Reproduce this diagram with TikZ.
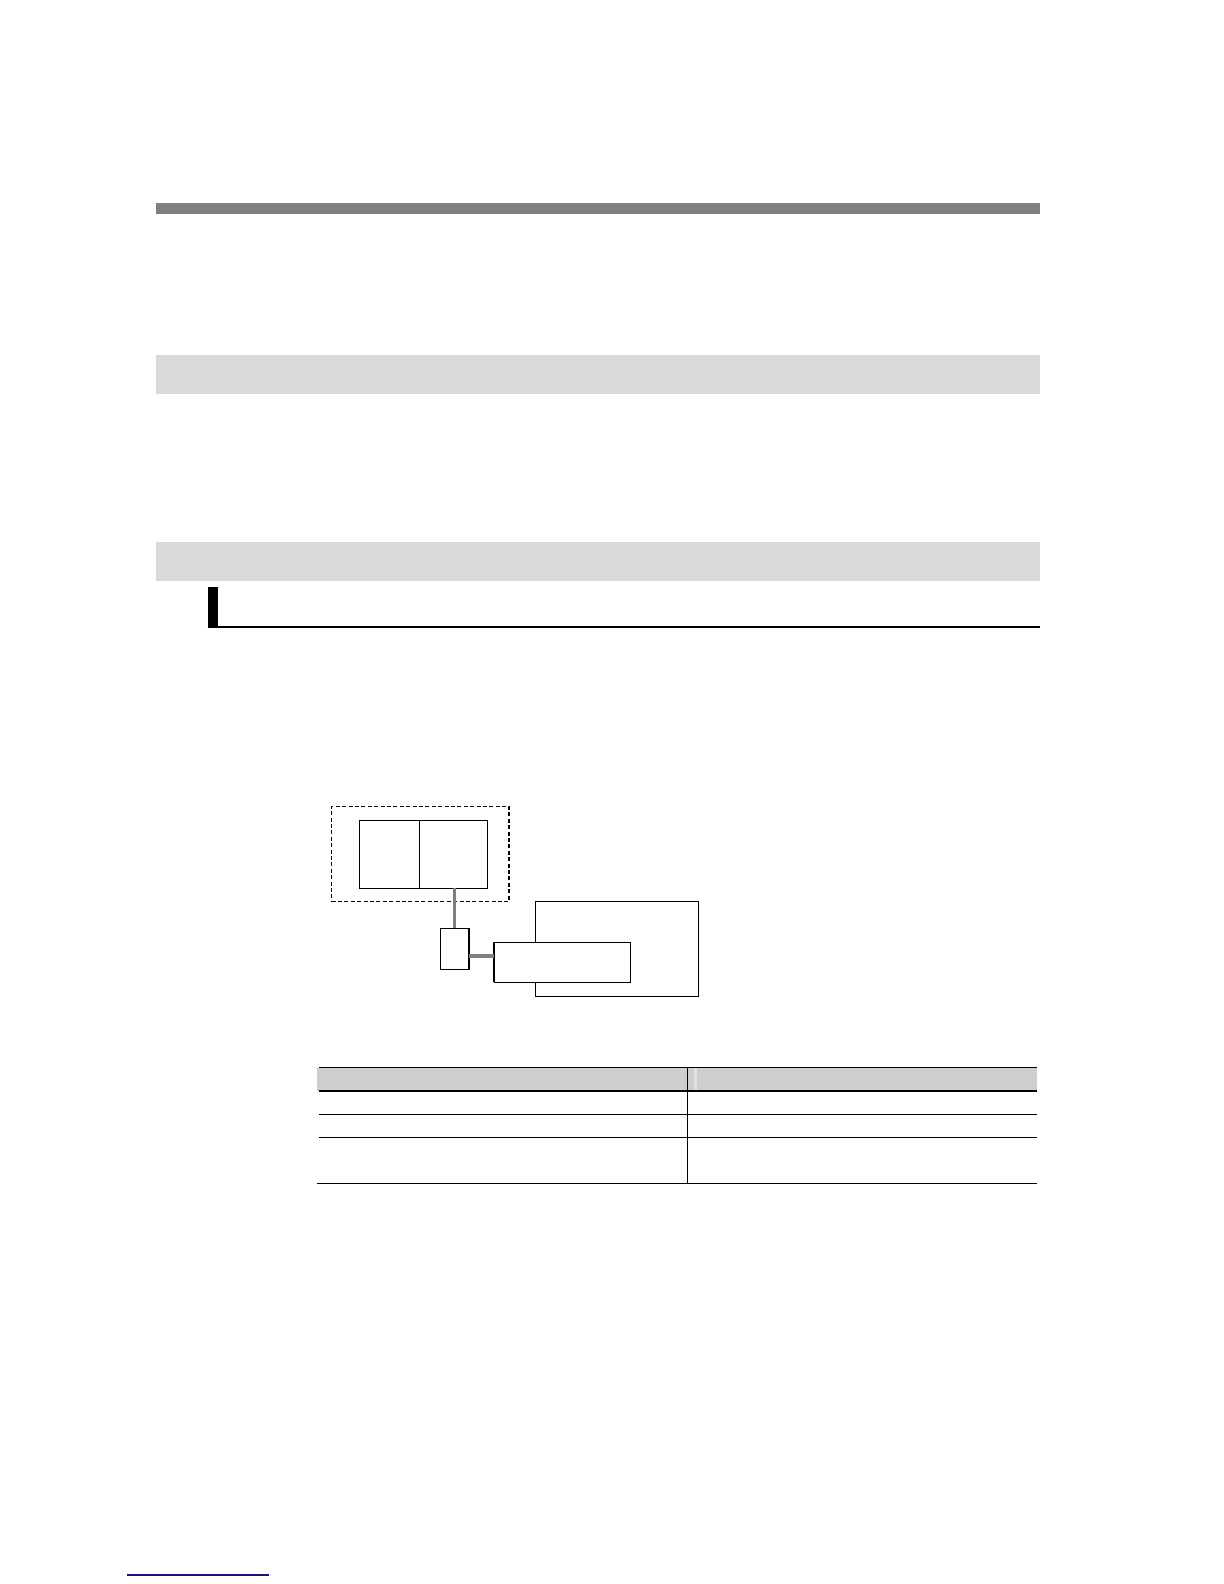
\documentclass[tikz,border=0pt]{standalone}
\usepackage{tikz}
\begin{document}
\begin{tikzpicture}[x=0.5pt,y=-0.5pt,
  boxnode/.style={draw=black,line width=0.6pt,fill=white,inner sep=0pt,outer sep=0pt,rectangle},
  groupbox/.style={draw=black,line width=0.6pt,dash pattern=on 2pt off 1.2pt,inner sep=0pt,outer sep=0pt,rectangle},
  cable/.style={draw=cablegray,line width=1.9pt},
  thickedge/.style={draw=black,line width=1.1pt},
  tabline/.style={draw=black,line width=0.55pt}]
\definecolor{cablegray}{RGB}{128,128,128}
\definecolor{barDark}{RGB}{128,128,128}
\definecolor{barLight}{RGB}{217,217,217}
\definecolor{headFill}{RGB}{206,206,206}
\definecolor{headGap}{RGB}{226,226,226}
\definecolor{linkBlue}{RGB}{20,20,128}
\useasboundingbox[fill=white] (0,0) rectangle (1224,1584);
% page header bars
\fill[barDark] (155.5,203) rectangle (1040,214);
\fill[barLight] (155.5,355) rectangle (1040,394.3);
\fill[barLight] (155.5,542) rectangle (1040,580.7);
% sub-heading marker
\fill[black] (207.7,587) rectangle (218,628);
\draw[black,line width=1.3pt] (207.7,626.8) -- (1040,626.8);
% diagram
\node[groupbox,minimum width=88.75pt,minimum height=47.4pt] (grp) at (420.25,853.9) {};
\node[boxnode,minimum width=29.9pt,minimum height=34pt] (L) at (389.4,854.3) {};
\node[boxnode,minimum width=34pt,minimum height=34pt] (R) at (453.3,854.3) {};
\node[boxnode,minimum width=14.2pt,minimum height=20.8pt] (S) at (454.5,948.9) {};
\node[boxnode,minimum width=81.7pt,minimum height=47.5pt] (B) at (617,948.8) {};
\node[boxnode,minimum width=68.2pt,minimum height=20.1pt] (M) at (562.5,962.3) {};
\draw[thickedge] (S.north east) -- (S.south east);
\draw[thickedge] (M.north west) -- (M.south west);
\coordinate (hc) at (0,955.7);
\draw[cable,line width=1.7pt] (S.north |- R.south) -- (S.north);
\draw[cable] (S.east |- hc) -- (M.west |- hc);
% table
\fill[headFill] (317,1067.8) rectangle (1037,1091);
\fill[headGap] (694,1067.8) rectangle (697,1091);
\draw[tabline] (319,1067.8) -- (1037,1067.8);
\draw[tabline] (319,1091) -- (1037,1091);
\draw[tabline] (319,1114.3) -- (1037,1114.3);
\draw[tabline] (319,1137.7) -- (1037,1137.7);
\draw[tabline] (317,1183.7) -- (1037,1183.7);
\draw[tabline] (687.5,1067.8) -- (687.5,1183.7);
% footnote rule
\draw[linkBlue,line width=0.6pt] (127,1575) -- (269,1575);
\end{tikzpicture}
\end{document}
